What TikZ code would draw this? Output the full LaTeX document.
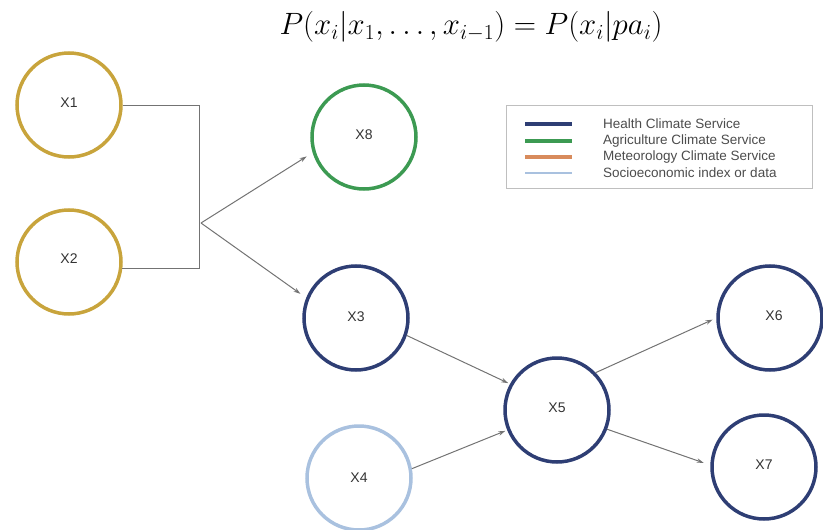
\documentclass[tikz,border=0pt]{standalone}
\usepackage{fontspec}
\setsansfont{Liberation Sans}
\usetikzlibrary{arrows.meta}
\definecolor{gold}{HTML}{C8A43C}
\definecolor{agrigreen}{HTML}{3C9A52}
\definecolor{healthblue}{HTML}{2E3E74}
\definecolor{meteoorange}{HTML}{D88B5C}
\definecolor{socioblue}{HTML}{A9C1DF}
\begin{document}
\begin{tikzpicture}[x=1pt,y=-1pt,
  var/.style={circle,draw,line width=3.5pt,minimum size=104pt,inner sep=0pt,
    font=\sffamily\fontsize{14}{14}\selectfont,text=black!80},
  conn/.style={draw=black!55,line width=1pt},
  arr/.style={conn,-{Stealth[length=7pt,width=4.5pt]}},
  legtext/.style={anchor=west,inner sep=0pt,font=\sffamily\fontsize{13.5}{13.5}\selectfont,text=black!70}]
\useasboundingbox (0,0) rectangle (823,530);
\node [scale=1.24] (title) at (471,27) {\fontsize{24}{28}\selectfont $P(x_i|x_1,\ldots,x_{i-1}) = P(x_i|pa_i)$};
% variables
\node [var,draw=gold] (x1) at (69,105) {\raisebox{4pt}{X1}};
\node [var,draw=gold] (x2) at (69,262) {\raisebox{6pt}{X2}};
\node [var,draw=agrigreen] (x8) at (364,137) {\raisebox{4pt}{X8}};
\node [var,draw=healthblue] (x3) at (356,318) {\raisebox{3pt}{X3}};
\node [var,draw=socioblue] (x4) at (359,478) {X4};
\node [var,draw=healthblue] (x5) at (557,410) {\raisebox{4pt}{X5}};
\node [var,draw=healthblue] (x6) at (770,318) {\raisebox{5pt}{\hspace{8pt}X6}};
\node [var,draw=healthblue] (x7) at (764,467) {\raisebox{5pt}{X7}};
% connectors
\coordinate (fork) at (201,223);
\draw [conn] (x1.east) -- ++(77,0) |- (x2.-7);
\draw [arr,shorten >=7pt] (fork) -- (x8.197);
\draw [arr,shorten >=7pt] (fork) -- (x3.158);
\draw [arr,shorten >=2pt] (x3.-19) -- (x5.151);
\draw [arr,shorten >=2pt] (x4.10) -- (x5.202);
\draw [arr,shorten >=4pt] (x5.44) -- (x6.180);
\draw [arr,shorten >=7pt] (x5.-21) -- (x7.178);
% legend
\node [draw=black!25,line width=1pt,minimum width=306pt,minimum height=83pt,anchor=north west] (legend) at (506,105) {};
\draw [line width=3.5pt,healthblue] (525,124) -- (572,124);
\node [legtext] (lh) at (603,124) {Health Climate Service};
\draw [line width=3.5pt,agrigreen] (525,141) -- (572,141);
\node [legtext] (la) at (603,141) {Agriculture Climate Service};
\draw [line width=3.5pt,meteoorange] (525,157) -- (572,157);
\node [legtext] (lm) at (603,157) {Meteorology Climate Service};
\draw [line width=1.5pt,socioblue] (525,173) -- (572,173);
\node [legtext] (ls) at (603,173) {Socioeconomic index or data};
\end{tikzpicture}
\end{document}
